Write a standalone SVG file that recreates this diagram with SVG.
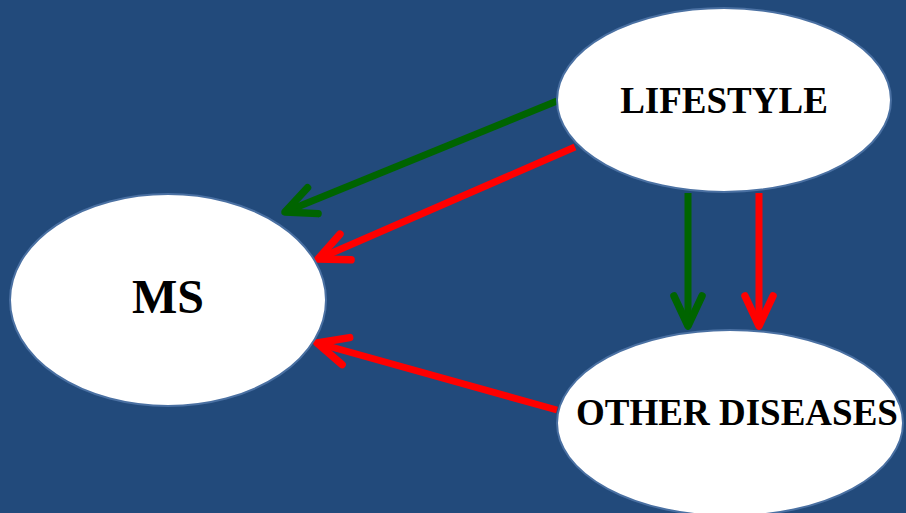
<svg xmlns="http://www.w3.org/2000/svg" width="906" height="513" viewBox="0 0 906 513">
<style>
.node{fill:#ffffff;stroke:#4a70a2;stroke-width:2}
.lbl{font-family:"Liberation Serif","Times New Roman",serif;font-weight:bold;fill:#000;text-anchor:middle}
.g{stroke:#006400;stroke-width:7;fill:none}
.r{stroke:#ff0000;stroke-width:7;fill:none}
</style>
<defs>
<marker id="ag" markerUnits="userSpaceOnUse" markerWidth="40" markerHeight="40" viewBox="-36 -20 40 40" refX="0" refY="0" orient="auto" overflow="visible">
<path d="M-30,-14 L0,0 L-30,14" fill="none" stroke="#006400" stroke-width="7.5" stroke-linecap="round" stroke-linejoin="round"/>
</marker>
<marker id="ar" markerUnits="userSpaceOnUse" markerWidth="40" markerHeight="40" viewBox="-36 -20 40 40" refX="0" refY="0" orient="auto" overflow="visible">
<path d="M-30,-14 L0,0 L-30,14" fill="none" stroke="#ff0000" stroke-width="7.5" stroke-linecap="round" stroke-linejoin="round"/>
</marker>
</defs>
<rect x="0" y="0" width="906" height="513" fill="#224a7b"/>
<g id="connectors">
<line class="g" x1="557" y1="101" x2="285" y2="212" marker-end="url(#ag)"/>
<line class="r" x1="575" y1="147" x2="318" y2="259" marker-end="url(#ar)"/>
<line class="r" x1="557" y1="410" x2="317" y2="343" marker-end="url(#ar)"/>
<line class="g" x1="688" y1="193" x2="688" y2="326" marker-end="url(#ag)"/>
<line class="r" x1="759" y1="193" x2="759" y2="326" marker-end="url(#ar)"/>
</g>
<g id="ms">
<ellipse class="node" cx="168" cy="300" rx="158" ry="106"/>
<text class="lbl" x="168" y="313" font-size="48">MS</text>
</g>
<g id="lifestyle">
<ellipse class="node" cx="724" cy="100" rx="167" ry="92"/>
<text class="lbl" x="724" y="113" font-size="37">LIFESTYLE</text>
</g>
<g id="other-diseases">
<ellipse class="node" cx="730" cy="423" rx="173" ry="93"/>
<text class="lbl" x="737" y="425" font-size="37">OTHER DISEASES</text>
</g>
</svg>
